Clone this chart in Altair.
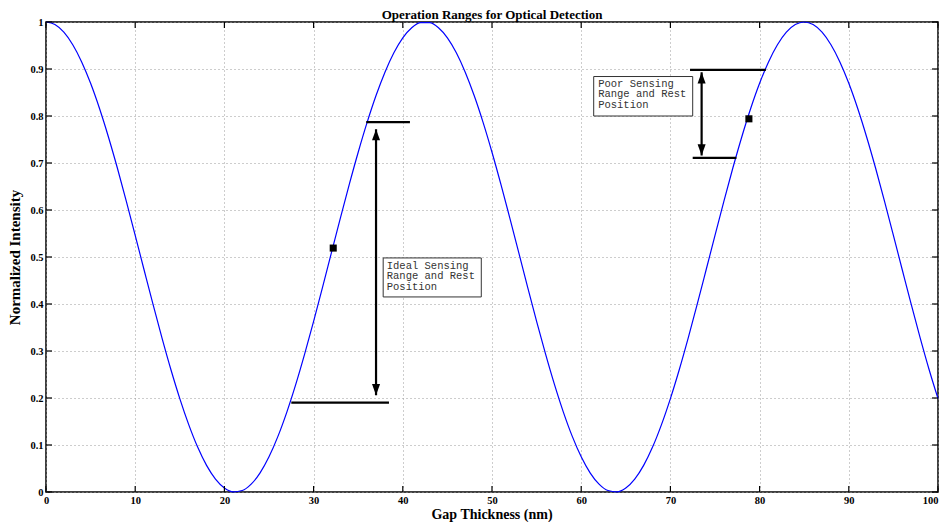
import altair as alt
import pandas as pd

# Curve values (gap thickness nm -> normalized intensity)
gap_nm = list(range(0, 101))
intensity = [
    1.0000, 0.9945, 0.9783, 0.9516, 0.9151, 0.8695, 0.8159, 0.7554, 0.6893, 0.6189,
    0.5461, 0.4723, 0.3990, 0.3280, 0.2607, 0.1988, 0.1434, 0.0955, 0.0566, 0.0274,
    0.0085, 0.0003, 0.0031, 0.0166, 0.0408, 0.0749, 0.1183, 0.1700, 0.2289, 0.2938,
    0.3632, 0.4355, 0.5093, 0.5828, 0.6545, 0.7229, 0.7863, 0.8435, 0.8932, 0.9345,
    0.9662, 0.9878, 0.9986, 0.9986, 0.9878, 0.9662, 0.9345, 0.8932, 0.8435, 0.7864,
    0.7229, 0.6545, 0.5828, 0.5093, 0.4355, 0.3632, 0.2938, 0.2289, 0.1700, 0.1183,
    0.0749, 0.0408, 0.0166, 0.0031, 0.0003, 0.0085, 0.0274, 0.0566, 0.0955, 0.1434,
    0.1988, 0.2607, 0.3280, 0.3990, 0.4723, 0.5461, 0.6189, 0.6893, 0.7554, 0.8159,
    0.8695, 0.9151, 0.9516, 0.9783, 0.9945, 1.0000, 0.9945, 0.9783, 0.9516, 0.9151,
    0.8695, 0.8159, 0.7554, 0.6893, 0.6189, 0.5461, 0.4723, 0.3990, 0.3280, 0.2607,
    0.1988,
]

# Rest-position markers
marker_x = [32.2, 78.8]
marker_y = [0.519, 0.794]

# Range bars (horizontal lines)
bar_x1 = [35.9, 27.5, 72.2, 72.5]
bar_x2 = [40.8, 38.45, 80.7, 77.4]
bar_y = [0.787, 0.190, 0.898, 0.711]

# Double arrows
arrow_x = [37.0, 73.5]
arrow_top = [0.772, 0.893]
arrow_bottom = [0.206, 0.716]

# Text boxes
box_x1 = [37.8, 61.4]
box_x2 = [48.8, 72.5]
box_y1 = [0.415, 0.800]
box_y2 = [0.498, 0.884]
label_x = [38.2, 38.2, 38.2, 61.9, 61.9, 61.9]
label_y = [0.4815, 0.459, 0.4365, 0.8685, 0.846, 0.8235]
label_text = ["Ideal Sensing", "Range and Rest", "Position",
              "Poor Sensing", "Range and Rest", "Position"]

x_ticks = [0, 10, 20, 30, 40, 50, 60, 70, 80, 90, 100]
y_ticks = [0, 0.1, 0.2, 0.3, 0.4, 0.5, 0.6, 0.7, 0.8, 0.9, 1]

title_text = ["Operation Ranges for Optical Detection"]
x_title_text = ["Gap Thickness (nm)"]

W, H = 892, 470

curve_df = pd.DataFrame({"gap": gap_nm, "intensity": intensity})
marker_df = pd.DataFrame({"x": marker_x, "y": marker_y})
bar_df = pd.DataFrame({"x1": bar_x1, "x2": bar_x2, "y": bar_y})
arrow_df = pd.DataFrame({"x": arrow_x, "top": arrow_top, "bottom": arrow_bottom})
box_df = pd.DataFrame({"x1": box_x1, "x2": box_x2, "y1": box_y1, "y2": box_y2})
label_df = pd.DataFrame({"x": label_x, "y": label_y, "t": label_text})
xt_df = pd.DataFrame({"v": x_ticks})
yt_df = pd.DataFrame({"v": y_ticks})
title_df = pd.DataFrame({"t": title_text})
xtitle_df = pd.DataFrame({"t": x_title_text})

serif = "Liberation Serif"
mono = "Liberation Mono"

xscale = alt.Scale(domain=[0, 100], nice=False, zero=False)
yscale = alt.Scale(domain=[0, 1], nice=False, zero=False)

x_axis = alt.Axis(values=x_ticks, format="d", title=None,
                  grid=True, gridColor="#9a9a9a", gridDash=[1, 3], gridWidth=1,
                  ticks=False, domain=False, labelPadding=3,
                  labelAlign={"condition": {"test": "datum.value >= 100", "value": "right"},
                              "value": "center"},
                  labelFont=serif, labelFontWeight="bold", labelFontSize=10.5,
                  labelColor="black")
y_axis = alt.Axis(values=y_ticks, format="~g", title="Normalized Intensity",
                  grid=True, gridColor="#9a9a9a", gridDash=[1, 3], gridWidth=1,
                  ticks=False, domain=False, labelPadding=3,
                  labelFont=serif, labelFontWeight="bold", labelFontSize=10.5,
                  labelColor="black", titleFont=serif, titleFontWeight="bold",
                  titleFontSize=15, titleColor="black", titlePadding=7)

curve = alt.Chart(curve_df).mark_line(color="#0000ff", strokeWidth=1.2,
                                      interpolate="monotone").encode(
    x=alt.X("gap:Q", scale=xscale, axis=x_axis),
    y=alt.Y("intensity:Q", scale=yscale, axis=y_axis),
)

# inward ticks on all four sides
xt_bottom = alt.Chart(xt_df).mark_rule(color="black", strokeWidth=1.2).encode(
    x=alt.X("v:Q", scale=xscale), y=alt.value(H), y2=alt.value(H - 6))
xt_top = alt.Chart(xt_df).mark_rule(color="black", strokeWidth=1.2).encode(
    x=alt.X("v:Q", scale=xscale), y=alt.value(0), y2=alt.value(6))
yt_left = alt.Chart(yt_df).mark_rule(color="black", strokeWidth=1.2).encode(
    y=alt.Y("v:Q", scale=yscale), x=alt.value(0), x2=alt.value(6))
yt_right = alt.Chart(yt_df).mark_rule(color="black", strokeWidth=1.2).encode(
    y=alt.Y("v:Q", scale=yscale), x=alt.value(W), x2=alt.value(W - 6))

bars = alt.Chart(bar_df).mark_rule(color="black", strokeWidth=2.2).encode(
    x=alt.X("x1:Q", scale=xscale), x2="x2:Q", y=alt.Y("y:Q", scale=yscale))

shafts = alt.Chart(arrow_df).mark_rule(color="black", strokeWidth=2.2).encode(
    x=alt.X("x:Q", scale=xscale), y=alt.Y("top:Q", scale=yscale), y2="bottom:Q")

head_up = alt.Chart(arrow_df).mark_point(
    shape="M0,0 L-0.36,1 L0.36,1 Z", size=500, filled=True, color="black", opacity=1
).encode(x=alt.X("x:Q", scale=xscale), y=alt.Y("top:Q", scale=yscale))
head_down = alt.Chart(arrow_df).mark_point(
    shape="M0,0 L-0.36,-1 L0.36,-1 Z", size=500, filled=True, color="black", opacity=1
).encode(x=alt.X("x:Q", scale=xscale), y=alt.Y("bottom:Q", scale=yscale))

markers = alt.Chart(marker_df).mark_square(size=50, color="black", opacity=1).encode(
    x=alt.X("x:Q", scale=xscale), y=alt.Y("y:Q", scale=yscale))

boxes = alt.Chart(box_df).mark_rect(fill="white", stroke="#333333", strokeWidth=1).encode(
    x=alt.X("x1:Q", scale=xscale), x2="x2:Q",
    y=alt.Y("y1:Q", scale=yscale), y2="y2:Q")

labels = alt.Chart(label_df).mark_text(
    align="left", baseline="middle", font=mono, fontSize=10.5, color="#333333"
).encode(x=alt.X("x:Q", scale=xscale), y=alt.Y("y:Q", scale=yscale), text="t:N")

title = alt.Chart(title_df).mark_text(
    align="center", baseline="alphabetic", font=serif, fontWeight="bold",
    fontSize=13, color="black"
).encode(x=alt.value(W / 2), y=alt.value(-3), text="t:N")

x_title = alt.Chart(xtitle_df).mark_text(
    align="center", baseline="alphabetic", font=serif, fontWeight="bold",
    fontSize=14, color="black"
).encode(x=alt.value(W / 2), y=alt.value(H + 27), text="t:N")

chart = alt.layer(
    curve, xt_bottom, xt_top, yt_left, yt_right, bars, shafts, head_up, head_down,
    markers, boxes, labels, title, x_title
).properties(
    width=W, height=H,
    autosize=alt.AutoSizeParams(type="none"),
    padding={"left": 38, "top": 14, "right": 3, "bottom": 30},
).configure_view(stroke="black", strokeWidth=1.5)

chart.save("out.html", embed_options={"renderer": "svg", "actions": False})
